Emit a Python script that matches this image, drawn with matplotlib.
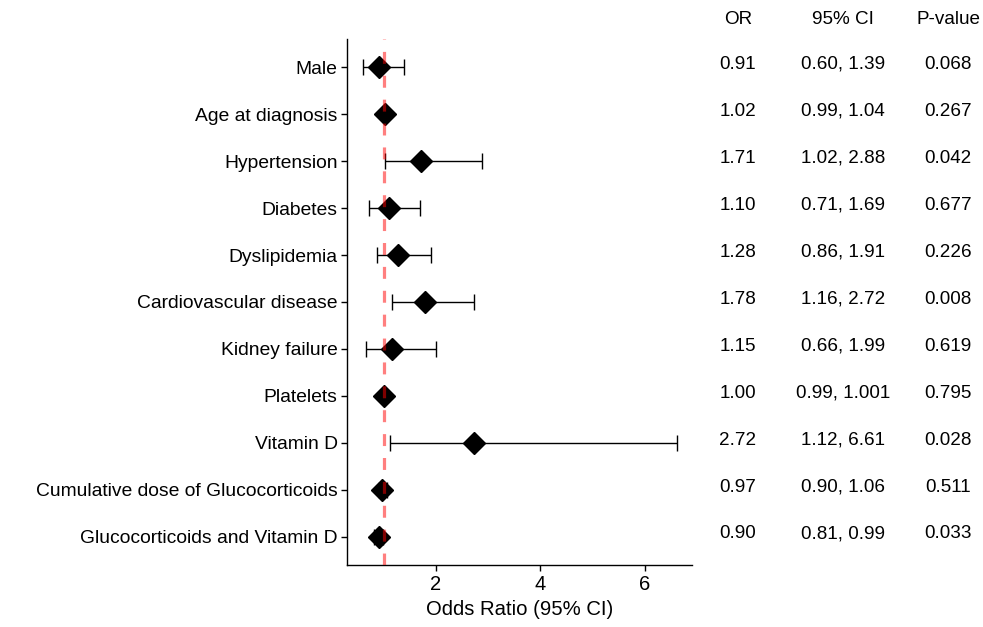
import matplotlib
matplotlib.use("Agg")
import matplotlib.pyplot as plt
import matplotlib.transforms as mtransforms

labels = ["Male", "Age at diagnosis", "Hypertension", "Diabetes", "Dyslipidemia",
          "Cardiovascular disease", "Kidney failure", "Platelets", "Vitamin D",
          "Cumulative dose of Glucocorticoids", "Glucocorticoids and Vitamin D"]
or_vals = [0.91, 1.02, 1.71, 1.10, 1.28, 1.78, 1.15, 1.00, 2.72, 0.97, 0.90]
ci_low = [0.60, 0.99, 1.02, 0.71, 0.86, 1.16, 0.66, 0.99, 1.12, 0.90, 0.81]
ci_high = [1.39, 1.04, 2.88, 1.69, 1.91, 2.72, 1.99, 1.001, 6.61, 1.06, 0.99]
or_text = ["0.91", "1.02", "1.71", "1.10", "1.28", "1.78", "1.15", "1.00", "2.72", "0.97", "0.90"]
ci_text = ["0.60, 1.39", "0.99, 1.04", "1.02, 2.88", "0.71, 1.69", "0.86, 1.91", "1.16, 2.72",
           "0.66, 1.99", "0.99, 1.001", "1.12, 6.61", "0.90, 1.06", "0.81, 0.99"]
p_text = ["0.068", "0.267", "0.042", "0.677", "0.226", "0.008", "0.619", "0.795", "0.028", "0.511", "0.033"]
headers = ["OR", "95% CI", "P-value"]
xticks = [2, 4, 6]

plt.rcParams['font.family'] = ['Liberation Sans', 'DejaVu Sans']
plt.rcParams['lines.scale_dashes'] = False
FS = 13.6

fig = plt.figure(figsize=(9.83, 6.27), dpi=100)
ax = fig.add_axes([0.3533, 0.0989, 0.7043 - 0.3533, 0.9378 - 0.0989])

y = list(range(len(labels)))
xerr = [[o - l for o, l in zip(or_vals, ci_low)], [h - o for o, h in zip(or_vals, ci_high)]]
ax.errorbar(or_vals, y, xerr=xerr, fmt='none', ecolor='black', elinewidth=1.0,
            capsize=5.5, capthick=1.0, zorder=2)
ax.plot(or_vals, y, linestyle='none', marker='D', markersize=11, color='black', zorder=3)
ax.axvline(1, color='red', alpha=0.5, linewidth=2.3, dashes=(8.6, 8.6), zorder=4)

lo = min(ci_low); hi = max(ci_high); rng = hi - lo
ax.set_xlim(lo - 0.05 * rng, hi + 0.05 * rng)
ax.set_ylim(len(labels) - 1 + 0.6, -0.6)
ax.set_yticks(y)
ax.set_yticklabels(labels, fontsize=13.9, color='black')
ax.set_xticks(xticks)
ax.set_xticklabels([str(t) for t in xticks], fontsize=14.5, color='black')
ax.set_xlabel("Odds Ratio (95% CI)", fontsize=14.6, color='black', labelpad=4.5)
ax.tick_params(axis='both', length=4, width=1, color='black', pad=3)
for s in ['top', 'right']:
    ax.spines[s].set_visible(False)
for s in ['left', 'bottom']:
    ax.spines[s].set_linewidth(1.0)
    ax.spines[s].set_color('black')

trans = mtransforms.blended_transform_factory(fig.transFigure, ax.transData)
cols_x = [738 / 983, 843 / 983, 948 / 983]
off = -0.06
for cx, h in zip(cols_x, headers):
    ax.text(cx, -1.01, h, transform=trans, ha='center', va='center', fontsize=FS, clip_on=False)
for i in y:
    for cx, t in zip(cols_x, [or_text[i], ci_text[i], p_text[i]]):
        ax.text(cx, i + off, t, transform=trans, ha='center', va='center', fontsize=FS, clip_on=False)

fig.savefig("out.png", dpi=100)
